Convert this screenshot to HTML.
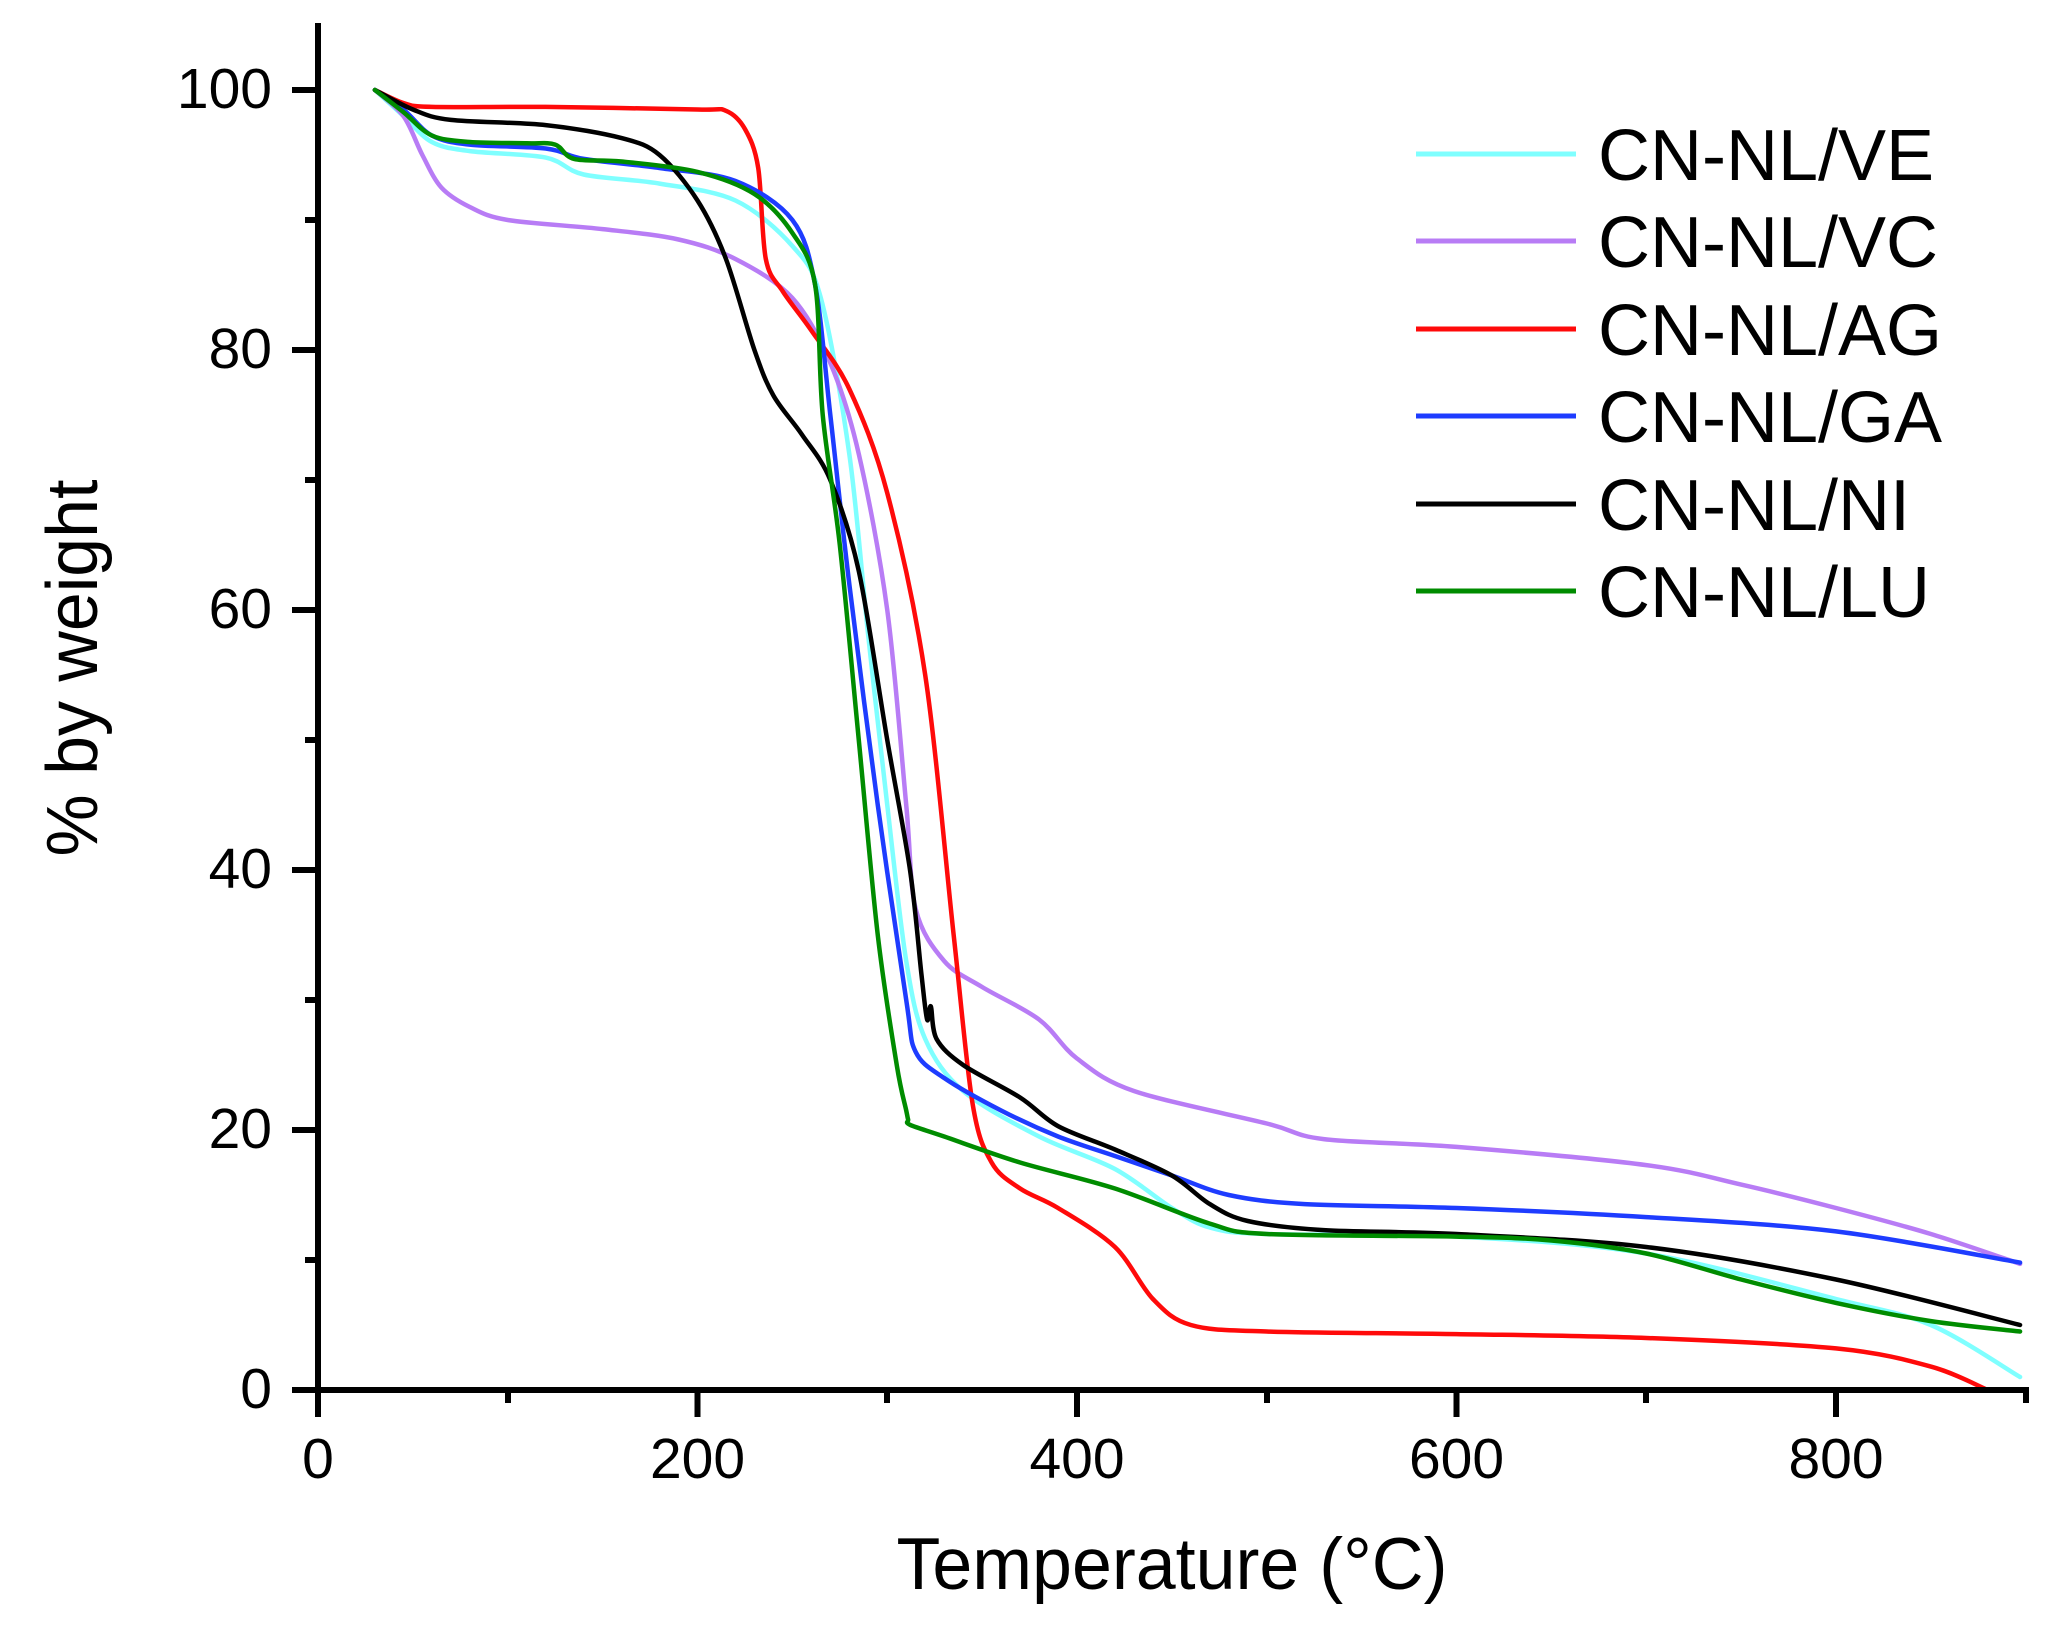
<!DOCTYPE html>
<html><head><meta charset="utf-8"><style>
html,body{margin:0;padding:0;background:#fff}
svg{display:block}
text{font-family:"Liberation Sans",Arial,sans-serif;fill:#000}
</style></head><body>
<svg id="s" width="2066" height="1630" viewBox="0 0 2066 1630" xmlns="http://www.w3.org/2000/svg">
<g id="curves" fill="none" stroke-width="4.5" stroke-linejoin="round" stroke-linecap="round"></g>
<g stroke="#000" stroke-width="6" fill="none">
<line x1="318" y1="23" x2="318" y2="1417"/>
<line x1="292" y1="1390" x2="2029" y2="1390"/>
<line x1="292" y1="90" x2="318" y2="90"/>
<line x1="292" y1="350" x2="318" y2="350"/>
<line x1="292" y1="610" x2="318" y2="610"/>
<line x1="292" y1="870" x2="318" y2="870"/>
<line x1="292" y1="1130" x2="318" y2="1130"/>
<line x1="305" y1="220" x2="318" y2="220"/>
<line x1="305" y1="480" x2="318" y2="480"/>
<line x1="305" y1="740" x2="318" y2="740"/>
<line x1="305" y1="1000" x2="318" y2="1000"/>
<line x1="305" y1="1260" x2="318" y2="1260"/>
<line x1="697.5" y1="1390" x2="697.5" y2="1417"/>
<line x1="1077" y1="1390" x2="1077" y2="1417"/>
<line x1="1456.5" y1="1390" x2="1456.5" y2="1417"/>
<line x1="1836" y1="1390" x2="1836" y2="1417"/>
<line x1="508" y1="1390" x2="508" y2="1403"/>
<line x1="887" y1="1390" x2="887" y2="1403"/>
<line x1="1267" y1="1390" x2="1267" y2="1403"/>
<line x1="1646" y1="1390" x2="1646" y2="1403"/>
<line x1="2026" y1="1390" x2="2026" y2="1403"/>
</g>
<g font-size="57" text-anchor="end">
<text x="272" y="108">100</text>
<text x="272" y="368">80</text>
<text x="272" y="628">60</text>
<text x="272" y="888">40</text>
<text x="272" y="1148">20</text>
<text x="272" y="1408">0</text>
</g>
<g font-size="57" text-anchor="middle">
<text x="318" y="1478">0</text>
<text x="697.5" y="1478">200</text>
<text x="1077" y="1478">400</text>
<text x="1456.5" y="1478">600</text>
<text x="1836" y="1478">800</text>
</g>
<text x="1172" y="1589" font-size="73" text-anchor="middle" textLength="551" lengthAdjust="spacingAndGlyphs">Temperature (°C)</text>
<text transform="translate(97,668) rotate(-90)" font-size="72" text-anchor="middle" textLength="377" lengthAdjust="spacingAndGlyphs">% by weight</text>
<g stroke-width="5">
<line x1="1416" y1="154" x2="1576" y2="154" stroke="#7fffff"/>
<line x1="1416" y1="241" x2="1576" y2="241" stroke="#b87cf5"/>
<line x1="1416" y1="329" x2="1576" y2="329" stroke="#ff0a0a"/>
<line x1="1416" y1="416" x2="1576" y2="416" stroke="#1e3cff"/>
<line x1="1416" y1="504" x2="1576" y2="504" stroke="#000"/>
<line x1="1416" y1="591" x2="1576" y2="591" stroke="#008c00"/>
</g>
<g font-size="72">
<text x="1598" y="180">CN-NL/VE</text>
<text x="1598" y="267">CN-NL/VC</text>
<text x="1598" y="355">CN-NL/AG</text>
<text x="1598" y="442">CN-NL/GA</text>
<text x="1598" y="530">CN-NL/NI</text>
<text x="1598" y="617">CN-NL/LU</text>
</g>
</svg>
<script>
var X=function(t){return 318+1.8975*t},Y=function(w){return 1390-13*w};
var D={
"#7fffff":[[30,100],[45,98],[60,96],[80,95.3],[120,94.8],[140,93.5],[180,92.8],[220,91.5],[250,88],[265,84],[280,72],[290,58],[300,45],[310,33],[320,27],[340,23],[380,19.5],[420,17],[450,14],[470,12.5],[500,12],[600,11.8],[700,10.5],[800,7],[850,5],[897,1]],
"#b87cf5":[[30,100],[45,98],[55,95],[65,92.5],[80,91],[100,90],[150,89.3],[190,88.5],[220,87],[250,84],[270,79],[285,72],[300,60],[310,45],[315,37],[330,33],[350,31],[380,28.5],[400,25.5],[430,23],[500,20.5],[530,19.3],[600,18.7],[700,17.3],[750,15.8],[800,14],[850,12],[897,9.7]],
"#ff0a0a":[[30,100],[45,99],[60,98.7],[120,98.7],[200,98.5],[215,98.4],[225,97],[232,94],[236,87],[245,84.5],[260,81.5],[280,77],[300,69],[320,55],[335,35],[345,22],[355,17.5],[370,15.5],[390,14],[420,11],[440,7],[460,5],[500,4.5],[600,4.3],[700,4],[800,3.2],[850,1.8],[880,0]],
"#1e3cff":[[30,100],[45,98.5],[60,96.5],[80,95.8],[120,95.5],[140,94.7],[180,94],[220,93],[250,90],[262,85],[270,75],[280,62],[295,45],[310,30],[315,26],[330,24],[360,21.5],[390,19.5],[420,18],[450,16.5],[480,15],[520,14.3],[600,14],[700,13.3],[800,12.2],[897,9.8]],
"#000":[[30,100],[50,98.5],[70,97.7],[120,97.3],[160,96.3],[180,95],[200,91.5],[215,87],[230,80],[240,76.5],[255,73.5],[270,70],[285,63],[300,50],[312,40],[318,32],[321,28.5],[323,29.5],[326,27],[340,25],[370,22.5],[390,20.3],[420,18.5],[450,16.5],[470,14.3],[490,13],[530,12.3],[600,12],[700,11],[800,8.5],[897,5]],
"#008c00":[[30,100],[45,98.3],[60,96.5],[80,96],[110,95.9],[125,95.8],[135,94.7],[160,94.5],[200,93.7],[230,92],[250,89],[262,85],[266,75],[275,65],[285,50],[295,35],[305,25],[310,21.5],[311,20.8],[312,20.4],[330,19.5],[370,17.5],[420,15.5],[470,12.8],[500,12],[600,11.8],[650,11.5],[700,10.5],[750,8.5],[800,6.7],[850,5.3],[897,4.5]]};
var g=document.getElementById('curves'),ns="http://www.w3.org/2000/svg";
for(var c in D){var p=D[c].map(function(a){return[X(a[0]),Y(a[1])]});
var d="M"+p[0][0]+","+p[0][1];
for(var i=0;i<p.length-1;i++){var p0=p[i-1]||p[i],p1=p[i],p2=p[i+1],p3=p[i+2]||p2;
var k=0.16;d+=" C"+(p1[0]+(p2[0]-p0[0])*k)+","+(p1[1]+(p2[1]-p0[1])*k)+" "+(p2[0]-(p3[0]-p1[0])*k)+","+(p2[1]-(p3[1]-p1[1])*k)+" "+p2[0]+","+p2[1];}
var e=document.createElementNS(ns,"path");e.setAttribute("d",d);e.setAttribute("stroke",c);g.appendChild(e);}
</script>
</body></html>
